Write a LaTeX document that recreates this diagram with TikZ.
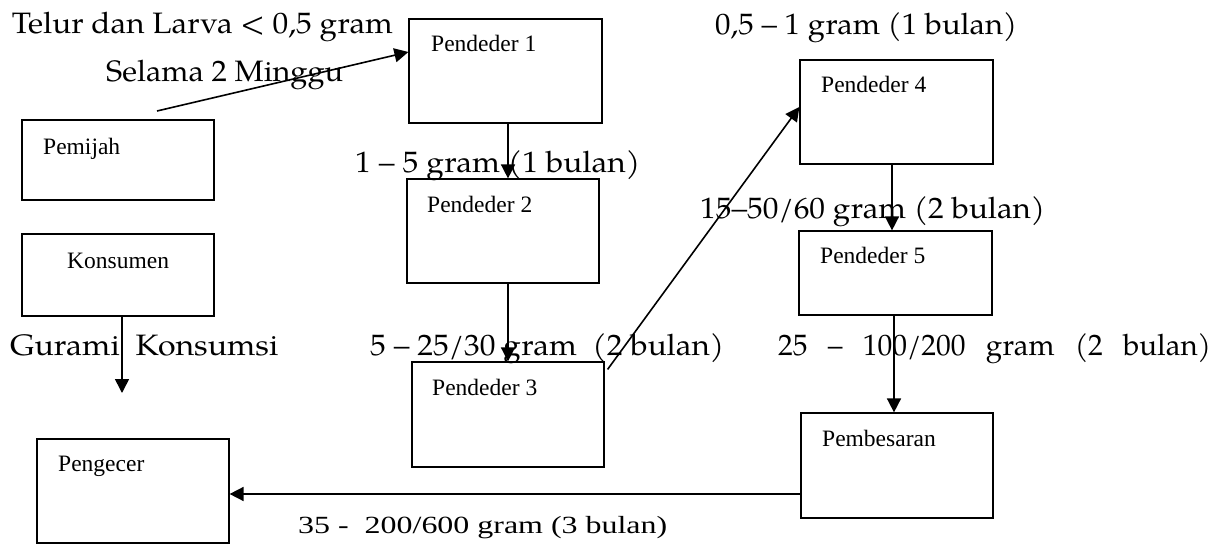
\documentclass[tikz,border=0pt]{standalone}
\usepackage{fontspec}
\setmainfont{Liberation Serif}
\newfontfamily\palfont{texgyrepagella-regular.otf}
\usepackage{graphicx}
\usetikzlibrary{arrows.meta}
\newcommand\lblfit[2]{\resizebox{#1}{\height}{#2}}
\begin{document}
\begin{tikzpicture}[x=1pt,y=-1pt,
  box/.style={draw, line width=1.2pt, rectangle, inner sep=0pt},
  btext/.style={anchor=base west, inner sep=0pt, font=\fontsize{23.5}{26}\selectfont},
  lab/.style={anchor=base west, inner sep=0pt, font=\palfont\fontsize{29.5}{32}\selectfont},
  tlab/.style={anchor=base west, inner sep=0pt, font=\fontsize{24.7}{28}\selectfont},
  arr/.style={line width=1.6pt, -{Triangle[length=14pt,width=14pt]}}]
\useasboundingbox (0,0) rectangle (1221,545);

% boxes
\node[box, minimum width=192pt, minimum height=80pt]  (pemijah)  at (118,160)   {};
\node[box, minimum width=192pt, minimum height=82pt]  (konsumen) at (118,275)   {};
\node[box, minimum width=192pt, minimum height=104pt] (pengecer) at (133,491)   {};
\node[box, minimum width=193pt, minimum height=104pt] (p1)       at (505.5,71)  {};
\node[box, minimum width=192pt, minimum height=104pt] (p2)       at (503,231)   {};
\node[box, minimum width=192pt, minimum height=105pt] (p3)       at (508,414.5) {};
\node[box, minimum width=193pt, minimum height=104pt] (p4)       at (896.5,112) {};
\node[box, minimum width=193pt, minimum height=84pt]  (p5)       at (895.5,273) {};
\node[box, minimum width=192pt, minimum height=105pt] (pemb)     at (897,465.5) {};

% box texts
\node[btext] (tpemijah)  at (43,154.3)  {Pemijah};
\node[btext] (tkonsumen) at (67,268.3)  {Konsumen};
\node[btext] (tpengecer) at (58,471.7)  {Pengecer};
\node[btext] (tp1)       at (431,51.7)  {Pendeder 1};
\node[btext] (tp2)       at (427,212.7) {Pendeder 2};
\node[btext] (tp3)       at (432,395)   {Pendeder 3};
\node[btext] (tp4)       at (821,92.3)  {Pendeder 4};
\node[btext] (tp5)       at (820,263.3) {Pendeder 5};
\node[btext] (tpemb)     at (822,446.7) {Pembesaran};

% connectors
\coordinate (startpem) at (157,111);
\coordinate (endkons) at (122,393);
\coordinate (pembout) at ([yshift=-28.5pt]pemb.west);
\draw[arr] (startpem) -- ([yshift=19pt]p1.west);
\draw[arr] ([xshift=2.5pt]p1.south) -- ([xshift=2.5pt]p1.south |- p2.north);
\draw[arr] ([xshift=5pt]p2.south) -- ([xshift=5pt]p2.south |- p3.north);
\draw[arr] ([shift={(3pt,-8pt)}]p3.north east) -- ([yshift=5pt]p4.west);
\draw[arr] ([xshift=-4.5pt]p4.south) -- ([xshift=-4.5pt]p4.south |- p5.north);
\draw[arr] ([xshift=-1.5pt]p5.south) -- ([xshift=-1.5pt]p5.south |- pemb.north);
\draw[arr] (pembout) -- (pengecer.east |- pembout);
\draw[arr] ([xshift=4pt]konsumen.south) -- (endkons);

% labels
\node[lab] (l1) at (11.7,34)  {\lblfit{381pt}{Telur dan Larva < 0,5 gram}};
\node[lab] (l2) at (106,81.7) {\lblfit{237pt}{Selama 2 Minggu}};
\node[lab] (l3) at (355,173)  {\lblfit{285pt}{1 – 5 gram (1 bulan)}};
\node[lab] (l4) at (715,35)   {\lblfit{302pt}{0,5 – 1 gram (1 bulan)}};
\node[lab] (l5) at (700,219)  {\lblfit{345pt}{15–50/60 gram (2 bulan)}};
\node[lab] (l6) at (370,355.7) {\lblfit{354pt}{5 – 25/30 gram\ \ (2 bulan)}};
\node[lab] (l7) at (778,355.7) {\makebox[433pt][s]{25 – 100/200 gram (2 bulan)}};
\node[lab] (l8) at (10,355.7) {\lblfit{268pt}{Gurami\ \ Konsumsi}};
\node[tlab] (l9) at (298,533) {\lblfit{369pt}{35 -\ \ 200/600 gram (3 bulan)}};
\end{tikzpicture}
\end{document}
